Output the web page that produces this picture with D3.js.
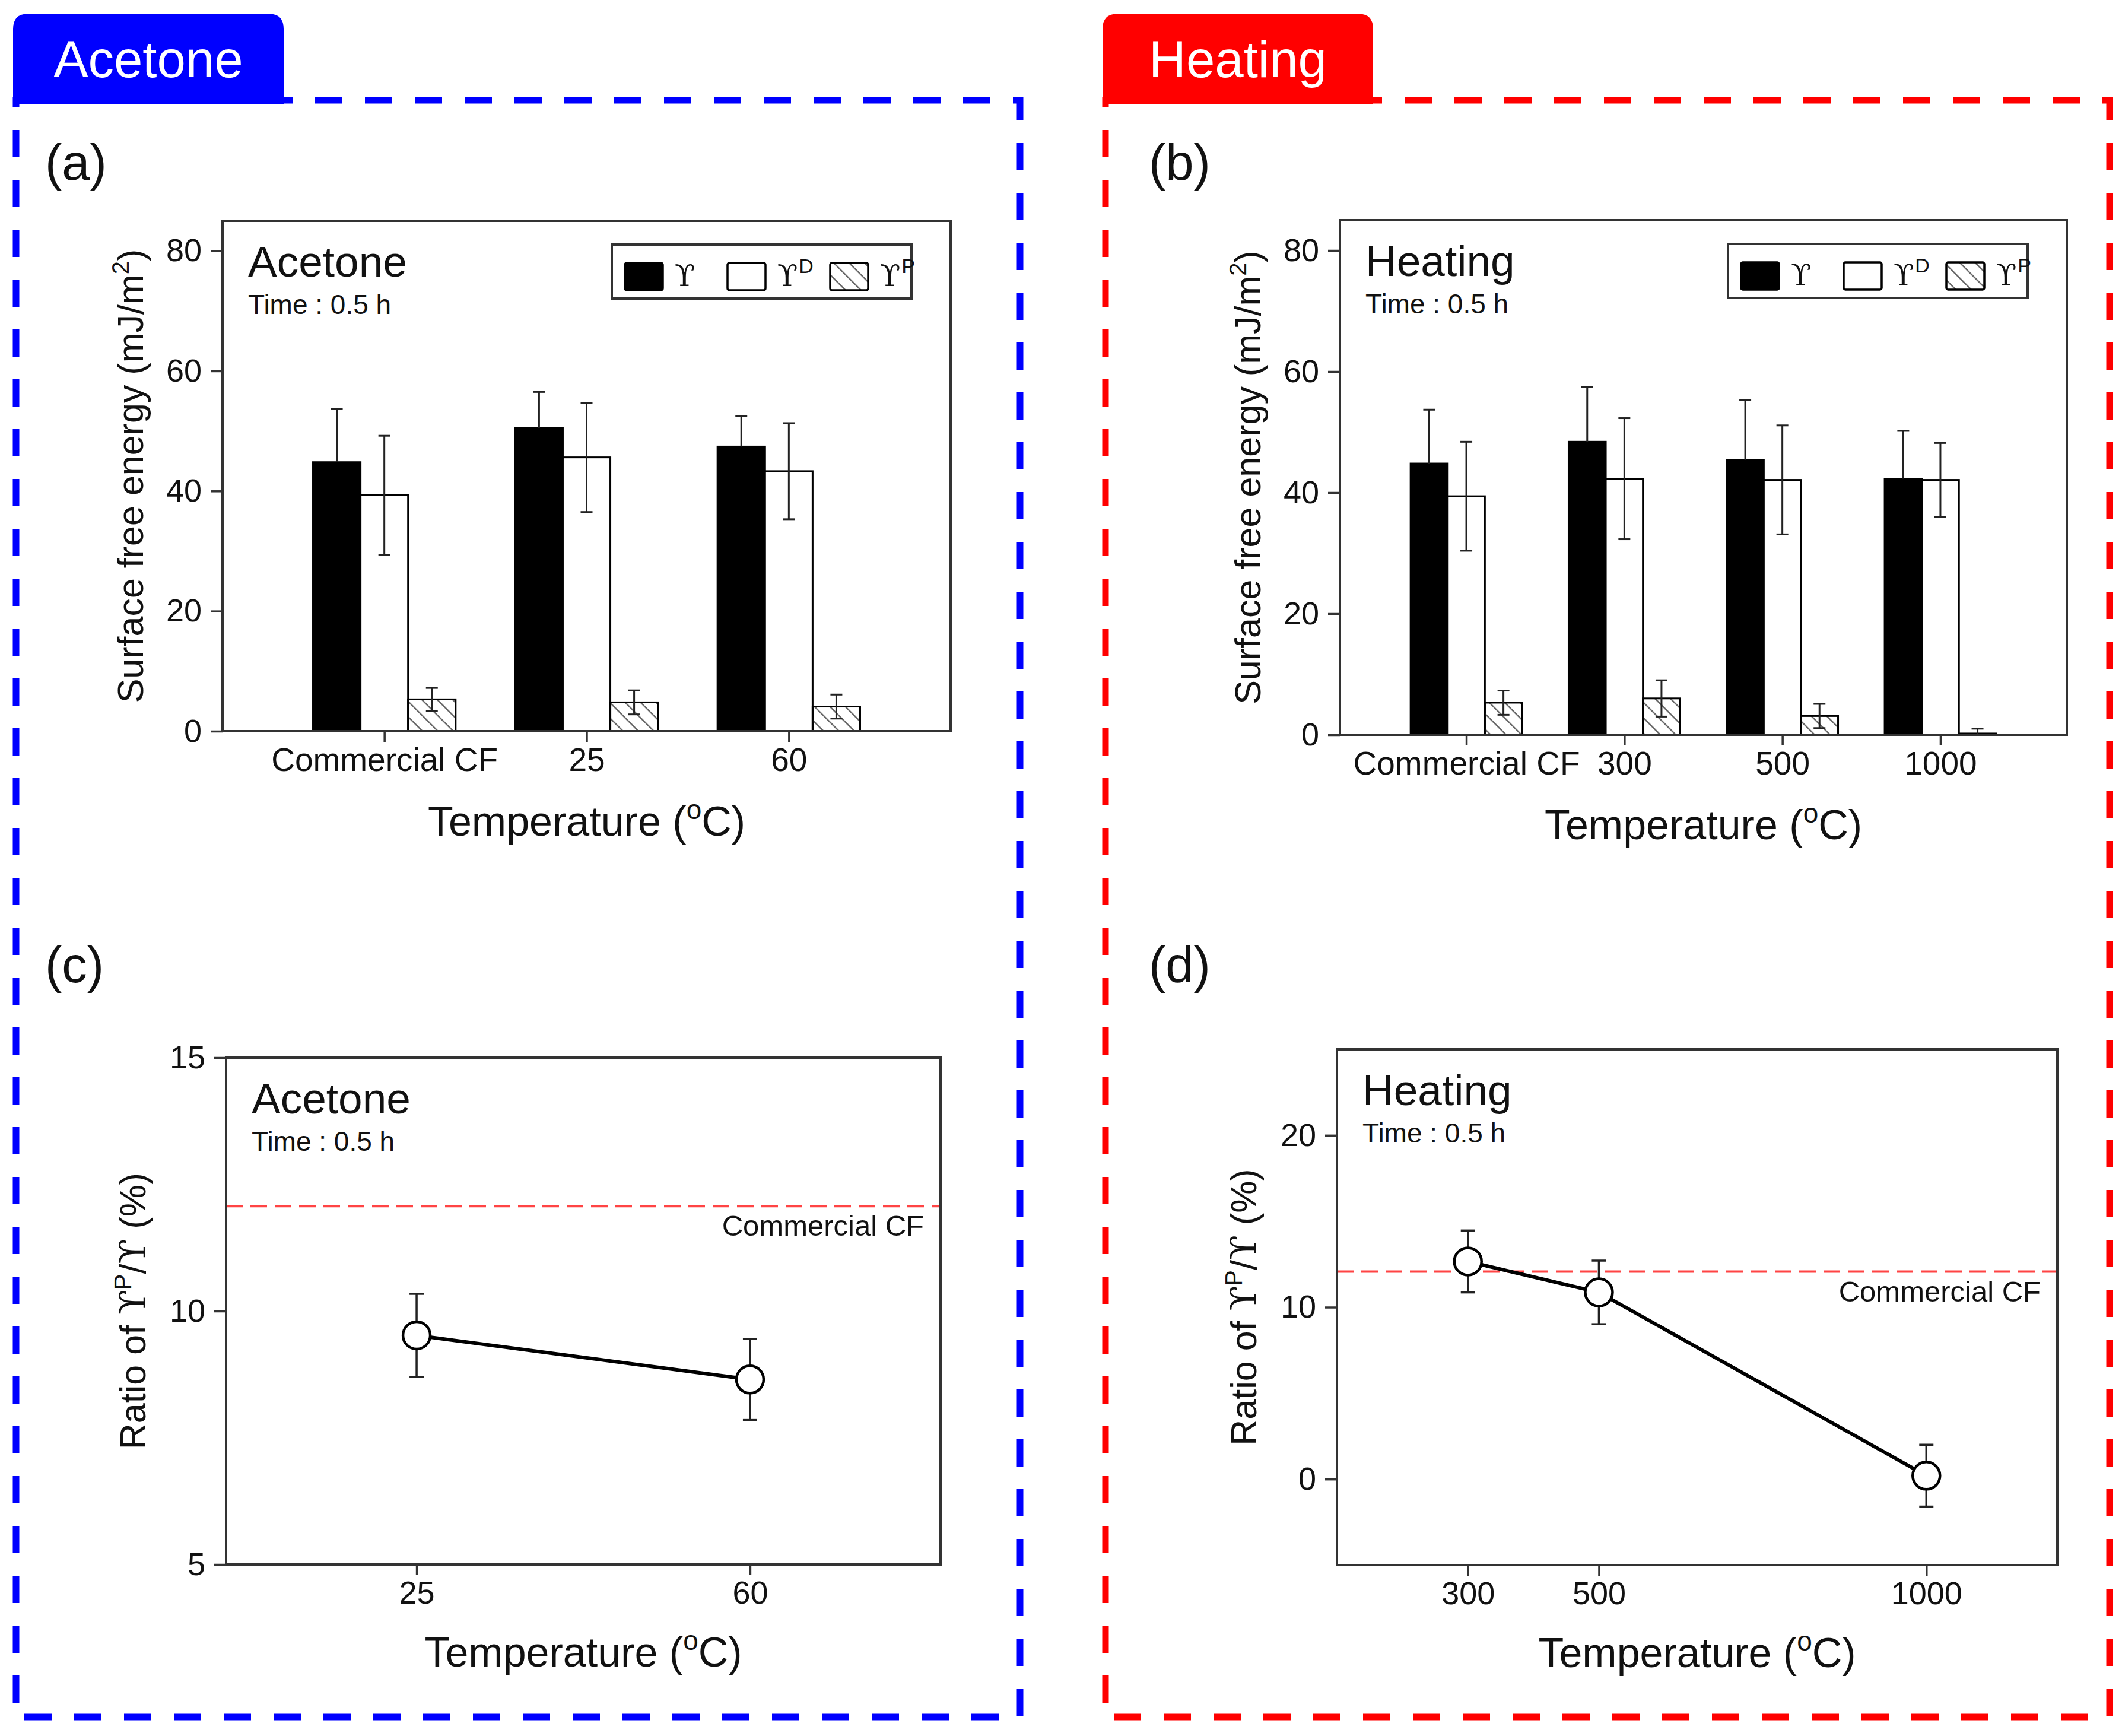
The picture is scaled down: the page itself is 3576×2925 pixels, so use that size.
<!DOCTYPE html>
<html>
<head>
<meta charset="utf-8">
<script src="https://cdn.jsdelivr.net/npm/d3@7"></script>
<style>
  body { margin: 0; background: #fff; }
  text { font-family: "Liberation Sans", Arial, sans-serif; }
</style>
</head>
<body>
<script>
"use strict";

// ---- data ----
const surfaceTicks = [0, 20, 40, 60, 80];

const acetoneCats = ["Commercial CF", "25", "60"];
const acetoneTotal = [44.8, 50.5, 47.4];
const acetoneTotalErr = [8.9, 6.0, 5.1];
const acetoneDisp = [39.3, 45.6, 43.3];
const acetoneDispErr = [9.9, 9.1, 8.0];
const acetonePolar = [5.3, 4.8, 4.1];
const acetonePolarErr = [1.9, 2.0, 2.0];

const heatingCats = ["Commercial CF", "300", "500", "1000"];
const heatingTotal = [44.8, 48.4, 45.4, 42.3];
const heatingTotalErr = [8.9, 9.0, 9.9, 7.9];
const heatingDisp = [39.4, 42.3, 42.1, 42.1];
const heatingDispErr = [9.0, 10.0, 9.0, 6.1];
const heatingPolar = [5.3, 6.0, 3.1, 0.2];
const heatingPolarErr = [2.0, 3.0, 2.0, 0.8];

const acetoneTemps = [25, 60];
const acetoneRatio = [9.52, 8.65];
const acetoneRatioErr = [0.82, 0.80];
const acetoneRatioTicks = [5, 10, 15];

const heatingTemps = [300, 500, 1000];
const heatingRatio = [12.66, 10.86, 0.2];
const heatingRatioErr = [1.8, 1.85, 1.8];
const heatingRatioTicks = [0, 10, 20];

const commercialRatio = 12.07;

const W = 3576, H = 2925;
const svg = d3.select("body").append("svg")
    .attr("width", W).attr("height", H);

svg.append("rect").attr("width", W).attr("height", H).attr("fill", "#fff");

const defs = svg.append("defs");
defs.append("pattern")
    .attr("id", "hatch")
    .attr("patternUnits", "userSpaceOnUse")
    .attr("width", 26).attr("height", 26)
  .append("path")
    .attr("d", "M-13,13 L13,39 M0,0 L26,26 M13,-13 L39,13")
    .attr("stroke", "#6a6a6a")
    .attr("stroke-width", 2.5);

const SERIF = "'DejaVu Serif', 'Liberation Serif', serif";

// dashed group frames with a tab on top
function drawGroup(x0, x1, color, label) {
    svg.append("rect")
        .attr("x", x0).attr("y", 169)
        .attr("width", x1 - x0).attr("height", 2893 - 169)
        .attr("fill", "none")
        .attr("stroke", color)
        .attr("stroke-width", 11)
        .attr("stroke-dasharray", "46,38");

    const tx = x0 - 5, tw = 456, ty = 23, tb = 175, r = 26;
    svg.append("path")
        .attr("d", `M${tx},${tb} L${tx},${ty + r} Q${tx},${ty} ${tx + r},${ty}
                    L${tx + tw - r},${ty} Q${tx + tw},${ty} ${tx + tw},${ty + r} L${tx + tw},${tb} Z`)
        .attr("fill", color);
    svg.append("text")
        .attr("x", tx + tw / 2).attr("y", 130)
        .attr("text-anchor", "middle")
        .attr("font-size", 87)
        .attr("fill", "#fff")
        .text(label);
}

drawGroup(27, 1719, "#0000ff", "Acetone");
drawGroup(1863, 3555, "#ff0000", "Heating");

function panelLabel(x, y, t) {
    svg.append("text").attr("x", x).attr("y", y)
        .attr("font-size", 85).attr("fill", "#111").text(t);
}
panelLabel(76, 303, "(a)");
panelLabel(1936, 303, "(b)");
panelLabel(76, 1655, "(c)");
panelLabel(1936, 1655, "(d)");

function styleAxis(a, fs) {
    a.select(".domain").remove();
    a.selectAll(".tick line").attr("stroke", "#333").attr("stroke-width", 3.5);
    a.selectAll(".tick text")
        .attr("font-size", fs)
        .attr("fill", "#111")
        .attr("font-family", "'Liberation Sans', Arial, sans-serif");
}

function innerTitle(g, x0, y0, name) {
    g.append("text").attr("x", x0 + 43).attr("y", y0 + 94)
        .attr("font-size", 73).attr("fill", "#111").text(name);
    g.append("text").attr("x", x0 + 43).attr("y", y0 + 157)
        .attr("font-size", 46).attr("fill", "#111").text("Time : 0.5 h");
}

function xTitle(g, cx, y) {
    const t = g.append("text").attr("x", cx).attr("y", y)
        .attr("text-anchor", "middle").attr("font-size", 70).attr("fill", "#111");
    t.append("tspan").text("Temperature (");
    t.append("tspan").attr("dy", -28).attr("font-size", 46).text("o");
    t.append("tspan").attr("dy", 28).text("C)");
}

function drawBarPanel(p) {
    const g = svg.append("g");
    const x = d3.scalePoint().domain(p.cats).range([p.x0, p.x1]).padding(0.8);
    const y = d3.scaleLinear().domain([0, 85]).range([p.y1, p.y0]);
    const bw = x.step() * 0.235;

    const series = [
        {vals: p.total, errs: p.totalErr, fill: "#000", upperOnly: true},
        {vals: p.disp, errs: p.dispErr, fill: "#fff", upperOnly: false},
        {vals: p.polar, errs: p.polarErr, fill: "url(#hatch)", upperOnly: false}
    ];

    series.forEach((s, k) => {
        const rows = p.cats.map((c, i) => ({c: c, v: s.vals[i], e: s.errs[i]}));
        const bx = d => x(d.c) + (k - 1.5) * bw;
        const lo = d => s.upperOnly ? d.v : Math.max(0, d.v - d.e);

        g.selectAll(null).data(rows).enter().append("rect")
            .attr("x", bx)
            .attr("y", d => y(d.v))
            .attr("width", bw)
            .attr("height", d => y(0) - y(d.v))
            .attr("fill", s.fill)
            .attr("stroke", "#000")
            .attr("stroke-width", 3);

        const eb = g.selectAll(null).data(rows).enter().append("g")
            .attr("stroke", "#222").attr("stroke-width", 3);
        eb.append("line")
            .attr("x1", d => bx(d) + bw / 2).attr("x2", d => bx(d) + bw / 2)
            .attr("y1", d => y(lo(d))).attr("y2", d => y(d.v + d.e));
        eb.append("line")
            .attr("x1", d => bx(d) + bw / 2 - 10).attr("x2", d => bx(d) + bw / 2 + 10)
            .attr("y1", d => y(d.v + d.e)).attr("y2", d => y(d.v + d.e));
        if (!s.upperOnly) {
            eb.append("line")
                .attr("x1", d => bx(d) + bw / 2 - 10).attr("x2", d => bx(d) + bw / 2 + 10)
                .attr("y1", d => y(lo(d))).attr("y2", d => y(lo(d)));
        }
    });

    g.append("g").attr("transform", `translate(${p.x0},0)`)
        .call(d3.axisLeft(y).tickValues(surfaceTicks).tickSize(20).tickPadding(15))
        .call(a => styleAxis(a, 54));
    g.append("g").attr("transform", `translate(0,${p.y1})`)
        .call(d3.axisBottom(x).tickSize(18).tickPadding(10))
        .call(a => styleAxis(a, 55));

    g.append("rect")
        .attr("x", p.x0).attr("y", p.y0)
        .attr("width", p.x1 - p.x0).attr("height", p.y1 - p.y0)
        .attr("fill", "none").attr("stroke", "#333").attr("stroke-width", 4);

    innerTitle(g, p.x0, p.y0, p.name);

    // legend
    const lx = p.x1 - 571, ly = p.y0 + 40;
    g.append("rect").attr("x", lx).attr("y", ly).attr("width", 505).attr("height", 91)
        .attr("fill", "#fff").attr("stroke", "#333").attr("stroke-width", 4);
    const legendItems = [
        {fill: "#000", sup: ""},
        {fill: "#fff", sup: "D"},
        {fill: "url(#hatch)", sup: "P"}
    ];
    legendItems.forEach((it, i) => {
        const ox = lx + 22 + i * 173;
        g.append("rect").attr("x", ox).attr("y", ly + 31).attr("width", 64).attr("height", 46)
            .attr("rx", 3)
            .attr("fill", it.fill).attr("stroke", "#000").attr("stroke-width", 3.5);
        const lt = g.append("text").attr("x", ox + 84).attr("y", ly + 70)
            .attr("font-size", 50).attr("fill", "#111");
        lt.append("tspan").attr("font-family", SERIF).text("\u03D2");
        if (it.sup) {
            lt.append("tspan").attr("dx", 2).attr("dy", -22).attr("font-size", 34).text(it.sup);
        }
    });

    xTitle(g, (p.x0 + p.x1) / 2, p.y1 + 176);

    const yt = g.append("text")
        .attr("transform", `translate(${p.x0 - 134},${(p.y0 + p.y1) / 2}) rotate(-90)`)
        .attr("text-anchor", "middle").attr("font-size", 61).attr("fill", "#111");
    yt.append("tspan").text("Surface free energy (mJ/m");
    yt.append("tspan").attr("dy", -24).attr("font-size", 40).text("2");
    yt.append("tspan").attr("dy", 24).text(")");
}

function drawRatioPanel(p) {
    const g = svg.append("g");
    const x = d3.scaleLinear().domain(p.xDomain).range([p.x0, p.x1]);
    const y = d3.scaleLinear().domain(p.yDomain).range([p.y1, p.y0]);
    const rows = p.temps.map((t, i) => ({t: t, v: p.ratio[i], e: p.err[i]}));

    g.append("line")
        .attr("x1", p.x0).attr("x2", p.x1)
        .attr("y1", y(commercialRatio)).attr("y2", y(commercialRatio))
        .attr("stroke", "#ff4444").attr("stroke-width", 4)
        .attr("stroke-dasharray", "28,13");
    g.append("text")
        .attr("x", p.x1 - 28).attr("y", y(commercialRatio) + 50)
        .attr("text-anchor", "end").attr("font-size", 49).attr("fill", "#111")
        .text("Commercial CF");

    g.append("path").datum(rows)
        .attr("d", d3.line().x(d => x(d.t)).y(d => y(d.v)))
        .attr("fill", "none").attr("stroke", "#000").attr("stroke-width", 6);

    const eb = g.selectAll(null).data(rows).enter().append("g")
        .attr("stroke", "#222").attr("stroke-width", 3.5);
    eb.append("line")
        .attr("x1", d => x(d.t)).attr("x2", d => x(d.t))
        .attr("y1", d => y(d.v - d.e)).attr("y2", d => y(d.v + d.e));
    [1, -1].forEach(sg => {
        eb.append("line")
            .attr("x1", d => x(d.t) - 12).attr("x2", d => x(d.t) + 12)
            .attr("y1", d => y(d.v + sg * d.e)).attr("y2", d => y(d.v + sg * d.e));
    });

    g.selectAll(null).data(rows).enter().append("circle")
        .attr("cx", d => x(d.t)).attr("cy", d => y(d.v)).attr("r", 23)
        .attr("fill", "#fff").attr("stroke", "#000").attr("stroke-width", 4.5);

    g.append("g").attr("transform", `translate(${p.x0},0)`)
        .call(d3.axisLeft(y).tickValues(p.yTicks).tickSize(20).tickPadding(15))
        .call(a => styleAxis(a, 54));
    g.append("g").attr("transform", `translate(0,${p.y1})`)
        .call(d3.axisBottom(x).tickValues(p.temps).tickFormat(d3.format("d")).tickSize(18).tickPadding(10))
        .call(a => styleAxis(a, 54));

    g.append("rect")
        .attr("x", p.x0).attr("y", p.y0)
        .attr("width", p.x1 - p.x0).attr("height", p.y1 - p.y0)
        .attr("fill", "none").attr("stroke", "#333").attr("stroke-width", 4);

    innerTitle(g, p.x0, p.y0, p.name);
    xTitle(g, (p.x0 + p.x1) / 2, p.y1 + 172);

    const yt = g.append("text")
        .attr("transform", `translate(${p.x0 - 136},${(p.y0 + p.y1) / 2}) rotate(-90)`)
        .attr("text-anchor", "middle").attr("font-size", 61).attr("fill", "#111");
    yt.append("tspan").text("Ratio of ");
    yt.append("tspan").attr("font-family", SERIF).text("\u03D2");
    yt.append("tspan").attr("dy", -24).attr("font-size", 40).text("P");
    yt.append("tspan").attr("dy", 24).text("/");
    yt.append("tspan").attr("font-family", SERIF).text("\u03D2");
    yt.append("tspan").text(" (%)");
}

drawBarPanel({
    x0: 375, x1: 1602, y0: 372, y1: 1232, name: "Acetone", cats: acetoneCats,
    total: acetoneTotal, totalErr: acetoneTotalErr,
    disp: acetoneDisp, dispErr: acetoneDispErr,
    polar: acetonePolar, polarErr: acetonePolarErr
});

drawBarPanel({
    x0: 2258, x1: 3483, y0: 371, y1: 1238, name: "Heating", cats: heatingCats,
    total: heatingTotal, totalErr: heatingTotalErr,
    disp: heatingDisp, dispErr: heatingDispErr,
    polar: heatingPolar, polarErr: heatingPolarErr
});

drawRatioPanel({
    x0: 381, x1: 1585, y0: 1782, y1: 2636, name: "Acetone",
    xDomain: [5, 80], yDomain: [5, 15], yTicks: acetoneRatioTicks,
    temps: acetoneTemps, ratio: acetoneRatio, err: acetoneRatioErr
});

drawRatioPanel({
    x0: 2253, x1: 3467, y0: 1768, y1: 2637, name: "Heating",
    xDomain: [100, 1200], yDomain: [-5, 25], yTicks: heatingRatioTicks,
    temps: heatingTemps, ratio: heatingRatio, err: heatingRatioErr
});
</script>
</body>
</html>
